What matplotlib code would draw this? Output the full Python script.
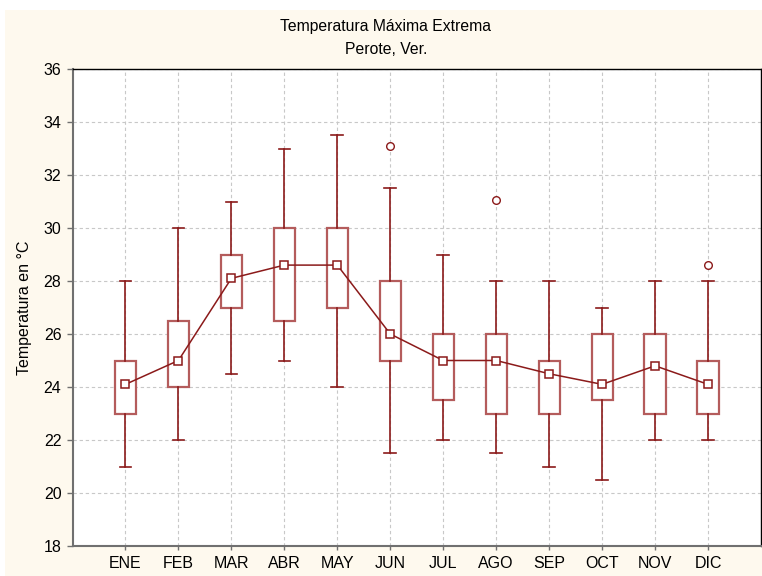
import matplotlib
matplotlib.use("Agg")
import matplotlib.pyplot as plt
from matplotlib.patches import Rectangle

plt.rcParams['font.family'] = ['Liberation Sans', 'DejaVu Sans']

months = ["ENE", "FEB", "MAR", "ABR", "MAY", "JUN", "JUL", "AGO", "SEP", "OCT", "NOV", "DIC"]
medians = [24.1, 25.0, 28.1, 28.6, 28.6, 26.0, 25.0, 25.0, 24.5, 24.1, 24.8, 24.1]
q1 = [23.0, 24.0, 27.0, 26.5, 27.0, 25.0, 23.5, 23.0, 23.0, 23.5, 23.0, 23.0]
q3 = [25.0, 26.5, 29.0, 30.0, 30.0, 28.0, 26.0, 26.0, 25.0, 26.0, 26.0, 25.0]
wlo = [21.0, 22.0, 24.5, 25.0, 24.0, 21.5, 22.0, 21.5, 21.0, 20.5, 22.0, 22.0]
whi = [28.0, 30.0, 31.0, 33.0, 33.5, 31.5, 29.0, 28.0, 28.0, 27.0, 28.0, 28.0]
outliers = [[], [], [], [], [], [33.1], [], [31.05], [], [], [], [28.6]]
yticks = [18, 20, 22, 24, 26, 28, 30, 32, 34, 36]

title1 = "Temperatura Máxima Extrema"
title2 = "Perote, Ver."
ylabel = "Temperatura en °C"

dark = "#8B1A1A"
boxc = "#B45C5C"
cream = "#FEF9EE"

W, H = 762, 576
fig = plt.figure(figsize=(W / 100, H / 100), dpi=100, facecolor="white")
fig.patches.append(Rectangle((5 / W, 0), 1, 1 - 10 / H, transform=fig.transFigure,
                             facecolor=cream, edgecolor="none", zorder=-10))

ax = fig.add_axes([72.5 / W, 1 - 546 / H, (761 - 72.5) / W, (546 - 69) / H])
ax.set_facecolor("white")

positions = list(range(1, len(months) + 1))
stats = []
for i in range(len(months)):
    stats.append(dict(med=medians[i], q1=q1[i], q3=q3[i], whislo=wlo[i], whishi=whi[i],
                      fliers=outliers[i], label=months[i]))

ax.bxp(stats, positions=positions, widths=0.4, patch_artist=True, showmeans=False,
       boxprops=dict(facecolor="white", edgecolor=boxc, linewidth=1.6),
       whiskerprops=dict(color=dark, linewidth=1.2),
       capprops=dict(color=dark, linewidth=1.2),
       capwidths=0.22,
       medianprops=dict(visible=False),
       flierprops=dict(marker="o", markerfacecolor="white", markeredgecolor=dark,
                       markersize=5.5, markeredgewidth=1.0),
       zorder=3)

ax.plot(positions, medians, color=dark, linewidth=1.1, marker="s", markersize=5.5,
        markerfacecolor="white", markeredgecolor=dark, markeredgewidth=1.1, zorder=5)

ax.set_xlim(0, 13)
ax.set_ylim(18, 36)
ax.set_yticks(yticks)
ax.set_xticks(positions)
ax.set_xticklabels(months)

ax.grid(True, color="#c8c8c8", linestyle=(0, (3, 2.5)), linewidth=0.8, zorder=0)
ax.set_axisbelow(True)

for s in ["left", "bottom"]:
    ax.spines[s].set_color("#707070")
    ax.spines[s].set_linewidth(1.5)
for s in ["top", "right"]:
    ax.spines[s].set_color("black")
    ax.spines[s].set_linewidth(1.0)

ax.tick_params(axis="y", direction="out", length=4, width=1, color="#707070",
               labelsize=11.5, pad=4)
ax.tick_params(axis="x", direction="out", length=3, width=1, color="#707070",
               labelsize=11.5, pad=4)

ax.set_ylabel(ylabel, fontsize=11.5)
ax.yaxis.set_label_coords(-0.059, 0.5)

fig.text(386 / W, 1 - 27 / H, title1, ha="center", va="center", fontsize=11.3)
fig.text(386 / W, 1 - 49 / H, title2, ha="center", va="center", fontsize=11.3)

fig.savefig("out.png", dpi=100, facecolor=fig.get_facecolor())
